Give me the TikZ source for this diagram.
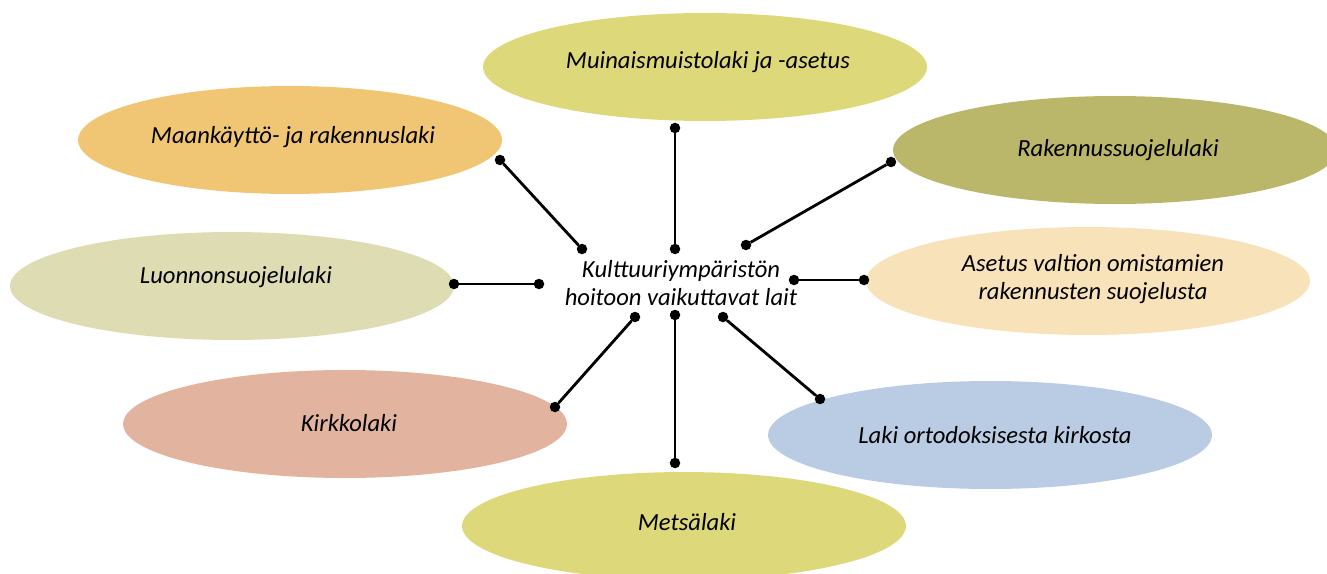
\documentclass[tikz,border=0pt]{standalone}
\usepackage{fontspec}
\setmainfont{Carlito}
\usetikzlibrary{shapes.geometric}

\definecolor{olive1}{HTML}{DDD87A}
\definecolor{orange1}{HTML}{F0C674}
\definecolor{olive2}{HTML}{BAB76A}
\definecolor{sage1}{HTML}{DDDCB3}
\definecolor{peach1}{HTML}{F8E2BA}
\definecolor{rose1}{HTML}{E2B4A0}
\definecolor{blue1}{HTML}{B9CCE4}

\begin{document}
\begin{tikzpicture}[x=0.02cm, y=-0.02cm]
\tikzset{ inner sep=0pt, outer sep=0pt,
  law/.style={ellipse, minimum width=8.88cm, minimum height=2.16cm},
  dot/.style={fill=black, circle, minimum size=0.21cm},
  txt/.style={font=\itshape\fontsize{14}{15.5}\selectfont, align=center},
  link/.style={line width=1.6pt},
}
\useasboundingbox (0,0) rectangle (1327,574);
%\draw [lightgray, dashed](0,0) grid[step=50] (1327,574);

\node [law, fill=olive1]  (MU)  at (705,67)  {};
\node [law, fill=orange1, minimum width=8.48cm] (MRL) at (290,140) {};
\node [law, fill=olive2]  (RSL) at (1115,150) {};
\node [law, fill=sage1]   (LSL) at (232,286) {};
\node [law, fill=peach1]  (AS)  at (1088,281) {};
\node [law, fill=rose1]   (KL)  at (345,424) {};
\node [law, fill=blue1]   (OK)  at (990,435) {};
\node [law, fill=olive1]  (ML)  at (684,526) {};

\node [txt] (MUt)  at (708,62)  {Muinaismuistolaki ja -asetus};
\node [txt] (MRLt) at (293,137) {Maankäyttö- ja rakennuslaki};
\node [txt] (RSLt) at (1118,150) {Rakennussuojelulaki};
\node [txt] (LSLt) at (236,277) {Luonnonsuojelulaki};
\node [txt] (ASt)  at (1093,279) {Asetus valtion omistamien\\rakennusten suojelusta};
\node [txt] (KLt)  at (349,423) {Kirkkolaki};
\node [txt] (OKt)  at (995,435) {Laki ortodoksisesta kirkosta};
\node [txt] (MLt)  at (687,522) {Metsälaki};

\node [txt] (C) at (681,283) {Kulttuuriympäristön\\hoitoon vaikuttavat lait};

% outer dots
\node [dot] (D1) at (675,128) {};
\node [dot] (D2) at (500,160) {};
\node [dot] (D3) at (891,162) {};
\node [dot] (D4) at (454,284) {};
\node [dot] (D5) at (864,280) {};
\node [dot] (D6) at (555,407) {};
\node [dot] (D7) at (675,463) {};
\node [dot] (D8) at (820,399) {};

% inner dots
\node [dot] (C1) at (675,249) {};
\node [dot] (C2) at (582,249) {};
\node [dot] (C3) at (746,245) {};
\node [dot] (C4) at (539,284) {};
\node [dot] (C5) at (794,280) {};
\node [dot] (C6) at (635,317) {};
\node [dot] (C7) at (675,315) {};
\node [dot] (C8) at (723,317) {};

\draw [link] (D1) -- (C1);
\draw [link] (D2) -- (C2);
\draw [link] (D3) -- (C3);
\draw [link] (D4) -- (C4);
\draw [link] (D5) -- (C5);
\draw [link] (D6) -- (C6);
\draw [link] (D7) -- (C7);
\draw [link] (D8) -- (C8);

\end{tikzpicture}
\end{document}
